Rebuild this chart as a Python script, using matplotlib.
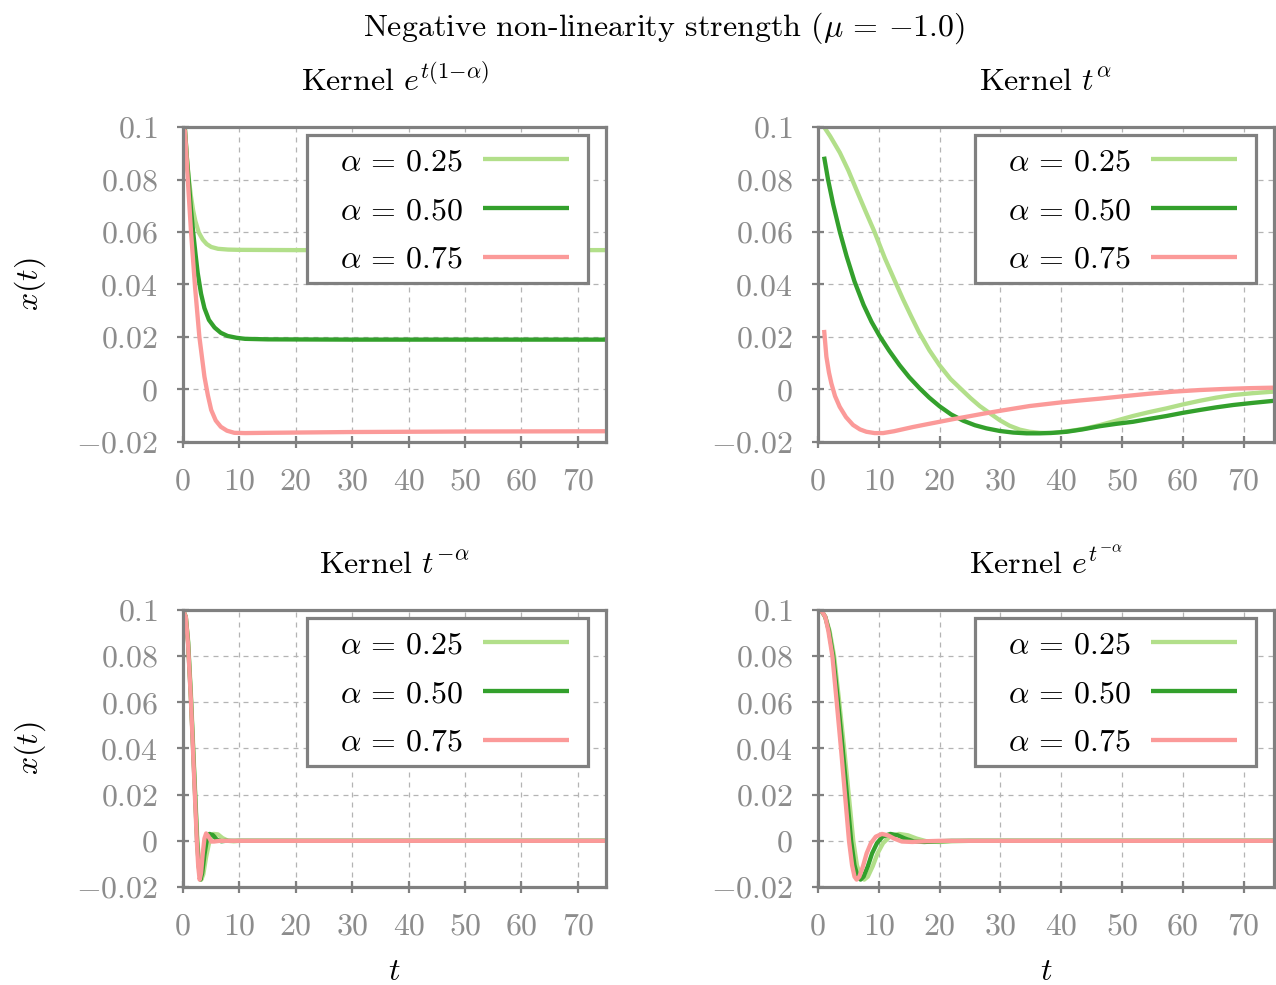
import matplotlib
matplotlib.use("Agg")
import matplotlib.pyplot as plt
from matplotlib.patches import Rectangle

plt.rcParams["font.family"] = "cmr10"
plt.rcParams["mathtext.fontset"] = "cm"
plt.rcParams["axes.formatter.use_mathtext"] = True

# ---------------------------------------------------------------- data
alphas = [0.25, 0.50, 0.75]
colors = ["#b2df8a", "#33a02c", "#fb9a99"]

titles = [r"Kernel $e^{t(1{-}\alpha)}$", r"Kernel $t^{\alpha}$",
          r"Kernel $t^{-\alpha}$", r"Kernel $e^{t^{-\alpha}}$"]
suptitle = r"Negative non-linearity strength ($\mu\,=\,{-1.0}$)"

x_ticks = [0, 10, 20, 30, 40, 50, 60, 70]
x_ticklabels = ["0", "10", "20", "30", "40", "50", "60", "70"]
y_ticks = [-0.02, 0.0, 0.02, 0.04, 0.06, 0.08, 0.1]
y_ticklabels = [r"$-0.02$", r"$0$", r"$0.02$", r"$0.04$", r"$0.06$", r"$0.08$", r"$0.1$"]

# Kernel e^{t(1-alpha)}
exp_t_025 = [0, 0.35, 0.7, 1.0, 1.4, 1.8, 2.2, 2.8, 3.5, 4.2, 5.0, 6.2, 8, 10, 20, 75]
exp_x_025 = [0.1, 0.099, 0.088, 0.081, 0.0737, 0.0682, 0.0641, 0.0598, 0.0571, 0.0554,
             0.0543, 0.0536, 0.0533, 0.0532, 0.0531, 0.0531]
exp_t_050 = [0, 0.35, 0.7, 1.0, 1.4, 1.8, 2.2, 2.6, 3.2, 3.8, 4.6, 5.6, 6.7, 7.9, 9.5,
             11, 15, 30, 75]
exp_x_050 = [0.1, 0.099, 0.088, 0.080, 0.069, 0.060, 0.052, 0.0445, 0.0365, 0.031,
             0.0265, 0.0236, 0.0216, 0.0204, 0.0197, 0.0193, 0.0191, 0.019, 0.019]
exp_t_075 = [0, 0.35, 0.6, 0.85, 1.43, 2.14, 2.9, 3.8, 4.4, 5.0, 5.8, 6.7, 7.8, 9.1,
             11, 15, 30, 50, 75]
exp_x_075 = [0.1, 0.0985, 0.09, 0.08, 0.0598, 0.039, 0.0201, 0.0049, -0.0021, -0.0078,
             -0.0118, -0.0142, -0.0157, -0.0165, -0.0166, -0.0165, -0.0162, -0.016, -0.0159]

# Kernel t^{alpha}
pow_t_025 = [1, 2, 3.6, 5, 6.3, 7.8, 9.3, 11, 12.9, 14.0, 15.3, 16.6, 18.3, 20, 21.8,
             23.6, 25.1, 26.6, 28.3, 29.9, 31.5, 33.2, 34.8, 36.5, 38.3, 40, 42, 44.1,
             46.3, 49, 51.8, 54.5, 57.3, 60, 62.8, 65.5, 68.3, 71.5, 75]
pow_x_025 = [0.1, 0.0965, 0.0902, 0.0834, 0.0762, 0.068, 0.060, 0.050, 0.040, 0.0343,
             0.0280, 0.0219, 0.0150, 0.0092, 0.0040, 0.0, -0.0033, -0.0063, -0.0091,
             -0.0117, -0.0138, -0.0153, -0.0161, -0.0165, -0.0166, -0.0162, -0.0156,
             -0.0148, -0.0136, -0.0119, -0.0101, -0.0086, -0.0072, -0.0057, -0.0043,
             -0.0031, -0.0021, -0.0014, -0.0008]
pow_t_050 = [1, 1.65, 2.5, 3.6, 4.7, 6.0, 7.5, 8.8, 10.1, 11.7, 13.4, 15, 16.7, 18.3,
             20, 21.9, 23.9, 25.8, 27.7, 29.9, 32.1, 34.3, 36.5, 38.7, 40.9, 43.5, 46.3,
             49, 51.8, 54.5, 57.3, 60, 62.8, 65.5, 68.3, 71.5, 75]
pow_x_050 = [0.0887, 0.080, 0.0705, 0.060, 0.0508, 0.0412, 0.0322, 0.0258, 0.0205,
             0.0148, 0.0093, 0.0047, 0.0005, -0.0031, -0.0064, -0.0095, -0.0119, -0.0136,
             -0.0148, -0.0158, -0.0164, -0.0167, -0.0167, -0.0165, -0.0161, -0.0152,
             -0.0140, -0.0131, -0.0123, -0.0112, -0.0101, -0.0089, -0.0078, -0.0068,
             -0.0059, -0.0051, -0.0043]
pow_t_075 = [1, 1.38, 1.8, 2.2, 2.8, 3.57, 4.6, 5.76, 6.9, 7.96, 9.3, 10.7, 12.5, 15.6,
             18, 20, 22.2, 24.4, 27.2, 30, 32.4, 34.8, 37.4, 40, 43, 46.3, 50.5, 54.5,
             58.6, 62.8, 66.8, 70.8, 75]
pow_x_075 = [0.0227, 0.0125, 0.0065, 0.0023, -0.0025, -0.0066, -0.0105, -0.0135,
             -0.0152, -0.0161, -0.0166, -0.0166, -0.0159, -0.0143, -0.0132, -0.0123,
             -0.0113, -0.0104, -0.0092, -0.0081, -0.0072, -0.0063, -0.0056, -0.0049,
             -0.0042, -0.0035, -0.0025, -0.0016, -0.0008, -0.0002, 0.0002, 0.0005, 0.0007]

# Kernel t^{-alpha}
inv_t_025 = [0, 0.5, 0.9, 1.4, 2.0, 2.55, 2.9, 3.25, 3.6, 4.1, 4.7, 5.4, 6.2, 7.0, 8.0,
             9, 10, 75]
inv_x_025 = [0.1, 0.097, 0.087, 0.064, 0.03, 0.0, -0.011, -0.0168, -0.0145, -0.007, 0.0,
             0.003, 0.0028, 0.0012, 0.0, -0.0002, 0.0, 0.0]
inv_t_050 = [0, 0.5, 0.9, 1.4, 2.0, 2.5, 2.8, 3.1, 3.4, 3.8, 4.2, 4.7, 5.3, 6.0, 6.8,
             7.5, 75]
inv_x_050 = [0.1, 0.097, 0.086, 0.062, 0.028, 0.0, -0.011, -0.0168, -0.014, -0.006, 0.0,
             0.003, 0.0025, 0.0005, -0.0002, 0.0, 0.0]
inv_t_075 = [0, 0.5, 0.9, 1.4, 2.0, 2.45, 2.7, 2.95, 3.2, 3.5, 3.8, 4.1, 4.5, 5.0, 5.5,
             6.5, 75]
inv_x_075 = [0.1, 0.097, 0.085, 0.061, 0.026, 0.0, -0.011, -0.0168, -0.014, -0.0055,
             0.001, 0.0032, 0.002, -0.0003, -0.0003, 0.0, 0.0]

# Kernel e^{t^{-alpha}}
expinv_t_025 = [0, 0.6, 1.2, 1.9, 2.65, 3.5, 4.3, 5.05, 5.8, 6.4, 7.0, 7.6, 8.2, 9.0,
                9.8, 10.7, 11.8, 13.3, 14.8, 16.2, 18.0, 20, 22, 25, 75]
expinv_x_025 = [0.1, 0.0995, 0.097, 0.091, 0.08, 0.06, 0.04, 0.02, 0.0, -0.0105, -0.0155,
                -0.0168, -0.0155, -0.011, -0.0054, -0.001, 0.0018, 0.003, 0.0024, 0.001,
                -0.0003, -0.0005, -0.0002, 0.0, 0.0]
expinv_t_050 = [0, 0.6, 1.2, 1.8, 2.5, 3.3, 4.05, 4.75, 5.45, 6.0, 6.5, 7.0, 7.5, 8.2,
                8.9, 9.7, 10.6, 11.9, 13.1, 14.3, 15.8, 17.5, 19.5, 22, 75]
expinv_x_050 = [0.1, 0.0995, 0.097, 0.091, 0.08, 0.06, 0.04, 0.02, 0.0, -0.0105, -0.0155,
                -0.0168, -0.0155, -0.011, -0.0054, -0.001, 0.0018, 0.003, 0.0024, 0.001,
                -0.0003, -0.0005, -0.0002, 0.0, 0.0]
expinv_t_075 = [0, 0.6, 1.2, 1.7, 2.37, 3.08, 3.78, 4.44, 5.1, 5.6, 6.0, 6.35, 6.8, 7.4,
                8.0, 8.7, 9.5, 10.5, 11.5, 12.5, 13.8, 15.5, 17.5, 20, 75]
expinv_x_075 = [0.1, 0.0995, 0.097, 0.091, 0.08, 0.06, 0.04, 0.02, 0.0, -0.0105, -0.0155,
                -0.0168, -0.0155, -0.011, -0.0054, -0.001, 0.0018, 0.003, 0.0024, 0.001,
                -0.0003, -0.0005, -0.0002, 0.0, 0.0]

panels = [
    [(exp_t_025, exp_x_025), (exp_t_050, exp_x_050), (exp_t_075, exp_x_075)],
    [(pow_t_025, pow_x_025), (pow_t_050, pow_x_050), (pow_t_075, pow_x_075)],
    [(inv_t_025, inv_x_025), (inv_t_050, inv_x_050), (inv_t_075, inv_x_075)],
    [(expinv_t_025, expinv_x_025), (expinv_t_050, expinv_x_050),
     (expinv_t_075, expinv_x_075)],
]

# ---------------------------------------------------------------- layout
W, H = 1276, 985
fig = plt.figure(figsize=(W / 100, H / 100), dpi=100)

# axes boxes in pixels: left, top, right, bottom
boxes = [(183, 127, 606, 442), (818, 127, 1274, 442),
         (183, 610, 606, 887), (818, 610, 1274, 887)]

GREY = "#808080"
FS = 23
LW = 3.1
LEG_W, LEG_H = 281, 148     # legend frame size in pixels
LEG_DX, LEG_DY = 18, 8      # frame offset from the axes' upper-right corner


def fig_xy(px, py):
    return px / W, 1 - py / H


for i, (box, series, title) in enumerate(zip(boxes, panels, titles)):
    l, t, r, b = box
    ax = fig.add_axes([l / W, 1 - b / H, (r - l) / W, (b - t) / H])
    for (tt, xx), a, c in zip(series, alphas, colors):
        ax.plot(tt, xx, color=c, lw=LW, label=rf"$\alpha\,=\,{a:.2f}$",
                solid_capstyle="butt", solid_joinstyle="round")
    ax.set_xlim(0, 75)
    ax.set_ylim(-0.02, 0.1)
    ax.set_xticks(x_ticks)
    ax.set_xticklabels(x_ticklabels)
    ax.set_yticks(y_ticks)
    ax.set_yticklabels(y_ticklabels)
    ax.grid(True, color="#b4b4b4", lw=0.9, ls=(0, (4, 4)))
    ax.set_axisbelow(True)
    for sp in ax.spines.values():
        sp.set_color(GREY)
        sp.set_linewidth(2.3)
    ax.tick_params(direction="inout", length=8, width=1.6, color=GREY,
                   labelcolor="#8c8c8c", labelsize=FS)
    ax.tick_params(axis="y", pad=14)
    ax.tick_params(axis="x", pad=15)
    ax.set_title(title, fontsize=FS, pad=26)
    if i % 2 == 0:
        ax.set_ylabel(r"$x(t)$", fontsize=FS, labelpad=20)
    if i >= 2:
        ax.set_xlabel(r"$t$", fontsize=FS, labelpad=13)

    # legend frame
    fx0 = r - LEG_DX - LEG_W
    fy0 = t + LEG_DY
    x0, y0 = fig_xy(fx0, fy0 + LEG_H)
    frame = Rectangle((x0, y0), LEG_W / W, LEG_H / H, transform=fig.transFigure,
                      facecolor="white", edgecolor=GREY, lw=2.3, zorder=4,
                      clip_on=False)
    ax.add_patch(frame)

    # legend entries, text first and line handle on the right
    ax_, ay_ = fig_xy(fx0 + 33, fy0 + LEG_H / 2 + 2)
    leg = ax.legend(loc="center left", bbox_to_anchor=(ax_, ay_),
                    bbox_transform=fig.transFigure, borderaxespad=0, borderpad=0,
                    markerfirst=False, fontsize=FS, handlelength=2.7,
                    handletextpad=0.62, labelspacing=0.64, frameon=False)
    leg.set_zorder(5)
    for line in leg.get_lines():
        line.set_linewidth(LW)

fig.text(664 / W, 1 - 28 / H, suptitle, ha="center", va="center", fontsize=FS)

fig.savefig("out.png", dpi=100)
